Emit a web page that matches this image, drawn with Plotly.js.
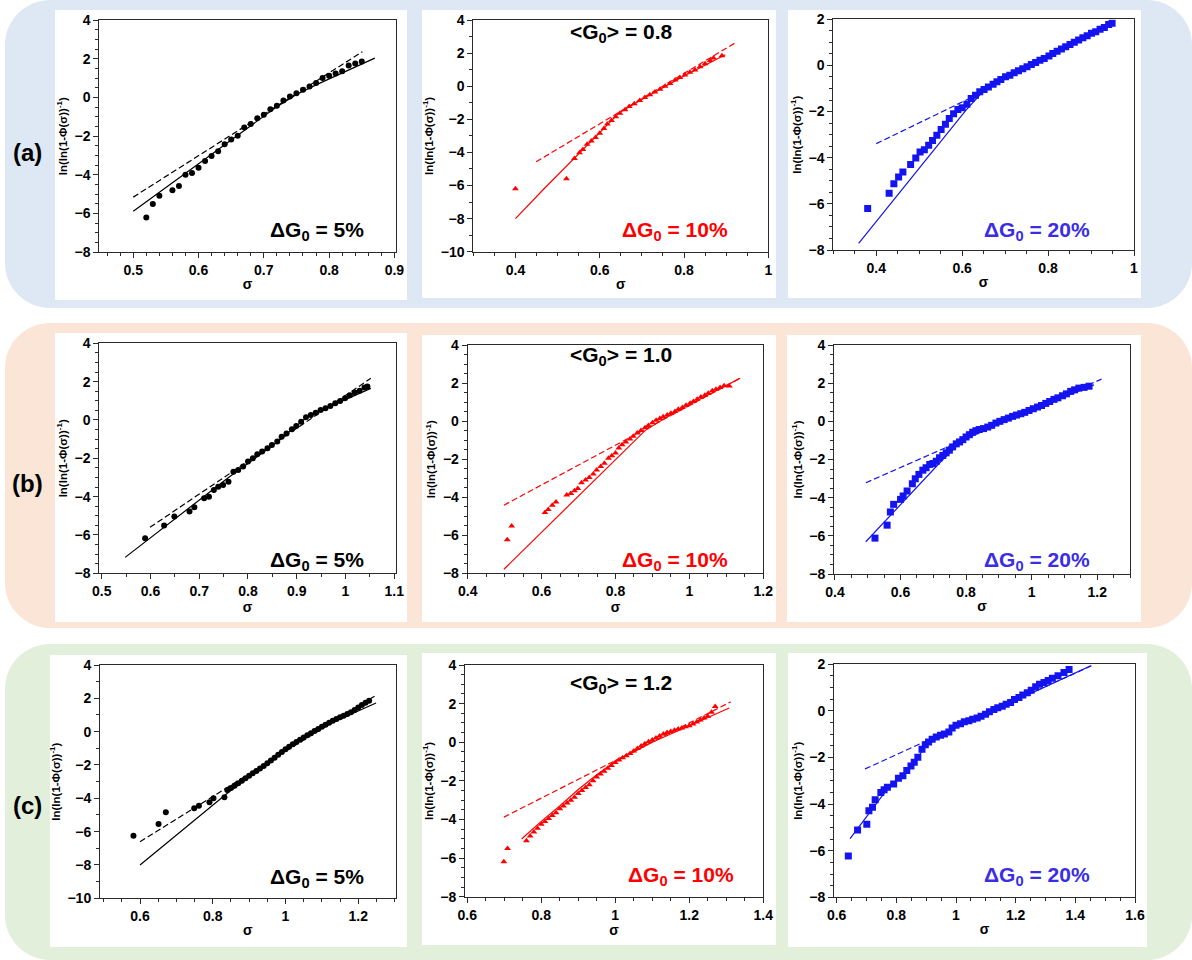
<!DOCTYPE html>
<html><head><meta charset="utf-8">
<script src="https://cdn.plot.ly/plotly-3.0.1.min.js"></script>
<style>html,body{margin:0;padding:0;background:#fff;}#chart{width:1192px;height:960px;}</style>
</head><body><div id="chart"></div>
<script>
// ---------- data ----------
// Row (a) <G0> = 0.8
const a1X = [0.52,0.53,0.54,0.56,0.57,0.58,0.59,0.60,0.61,0.62,0.63,0.64,0.65,0.66,0.67,0.68,0.69,0.70,0.71,0.72,0.73,0.74,0.75,0.76,0.77,0.78,0.79,0.80,0.81,0.82,0.83,0.84,0.85];
const a1Y = [-6.2,-5.5,-5.08,-4.8,-4.58,-4.0,-3.9,-3.63,-3.28,-3.02,-2.78,-2.42,-2.17,-1.98,-1.55,-1.37,-1.08,-0.9,-0.61,-0.43,-0.16,0.05,0.22,0.4,0.57,0.75,1.0,1.12,1.23,1.35,1.65,1.75,1.85];
const a1SolidX = [0.5,0.6,0.68,0.72,0.75,0.78,0.87];
const a1SolidY = [-5.88,-3.42,-1.45,-0.48,0.15,0.65,2.03];
const a1DashX = [0.5,0.851];
const a1DashY = [-5.15,2.36];

const a2X = [0.40,0.521,0.540,0.552,0.560,0.570,0.580,0.590,0.600,0.610,0.618,0.628,0.638,0.648,0.660,0.670,0.682,0.695,0.707,0.719,0.731,0.743,0.755,0.767,0.779,0.790,0.802,0.814,0.826,0.838,0.850,0.862,0.870,0.890];
const a2Y = [-6.2,-5.59,-4.37,-4.02,-3.82,-3.51,-3.31,-3.1,-2.84,-2.55,-2.29,-2.08,-1.84,-1.63,-1.43,-1.22,-1.06,-0.86,-0.69,-0.51,-0.35,-0.18,0.0,0.16,0.37,0.53,0.67,0.84,0.98,1.18,1.35,1.55,1.7,1.84];
const a2SolidX = [0.4,0.465,0.648,0.70,0.80,0.898];
const a2SolidY = [-8.0,-6.27,-1.57,-0.8,0.62,1.9];
const a2DashX = [0.449,0.921];
const a2DashY = [-4.57,2.61];

const a3X = [0.38,0.43,0.441,0.452,0.462,0.48,0.492,0.502,0.512,0.522,0.531,0.541,0.551,0.561,0.57,0.58,0.59,0.60,0.611,0.621,0.631,0.641,0.651,0.661,0.672,0.681,0.69,0.701,0.711,0.721,0.731,0.741,0.751,0.761,0.771,0.781,0.791,0.802,0.811,0.821,0.831,0.841,0.851,0.861,0.871,0.881,0.891,0.901,0.911,0.921,0.931,0.941,0.949];
const a3Y = [-6.2,-5.54,-5.13,-4.84,-4.62,-4.29,-4.01,-3.75,-3.65,-3.46,-3.25,-3.03,-2.78,-2.55,-2.3,-2.09,-1.91,-1.83,-1.68,-1.43,-1.29,-1.14,-1.04,-0.93,-0.81,-0.71,-0.61,-0.49,-0.42,-0.32,-0.23,-0.14,-0.06,0.04,0.13,0.23,0.3,0.41,0.52,0.62,0.71,0.81,0.91,1.0,1.1,1.2,1.29,1.39,1.46,1.57,1.64,1.78,1.83];
const a3SolidX = [0.359,0.609,0.65,0.75,0.95];
const a3SolidY = [-7.71,-1.94,-1.1,-0.08,1.8];
const a3DashX = [0.40,0.625];
const a3DashY = [-3.39,-1.36];

// Row (b) <G0> = 1.0
const b1X = [0.589,0.628,0.649,0.68,0.69,0.71,0.72,0.73,0.739,0.749,0.76,0.77,0.78,0.79,0.80,0.81,0.819,0.829,0.84,0.849,0.86,0.869,0.879,0.89,0.899,0.909,0.919,0.929,0.939,0.949,0.959,0.969,0.979,0.989,0.999,1.009,1.019,1.029,1.039,1.045];
const b1Y = [-6.17,-5.51,-5.04,-4.78,-4.56,-4.09,-4.0,-3.65,-3.48,-3.39,-3.22,-2.7,-2.61,-2.43,-2.17,-2.0,-1.79,-1.65,-1.48,-1.3,-1.13,-0.87,-0.7,-0.49,-0.31,-0.09,0.14,0.26,0.38,0.52,0.61,0.73,0.87,0.99,1.13,1.29,1.43,1.53,1.69,1.74];
const b1SolidX = [0.548,0.76,0.85,0.919,0.96,1.052];
const b1SolidY = [-7.17,-3.0,-1.35,0.1,0.62,1.65];
const b1DashX = [0.599,1.052];
const b1DashY = [-5.6,2.17];

const b2X = [0.507,0.519,0.609,0.618,0.629,0.639,0.668,0.679,0.689,0.698,0.708,0.719,0.729,0.74,0.749,0.76,0.77,0.781,0.79,0.80,0.809,0.818,0.828,0.839,0.848,0.859,0.869,0.88,0.889,0.90,0.91,0.92,0.929,0.94,0.95,0.961,0.97,0.981,0.991,1.002,1.011,1.021,1.031,1.042,1.051,1.062,1.072,1.083,1.094,1.108];
const b2Y = [-6.23,-5.52,-4.81,-4.65,-4.42,-4.25,-3.89,-3.81,-3.66,-3.54,-3.24,-3.1,-2.96,-2.78,-2.57,-2.39,-2.21,-1.95,-1.82,-1.68,-1.42,-1.24,-1.1,-0.94,-0.8,-0.62,-0.5,-0.35,-0.23,-0.09,0.04,0.14,0.23,0.32,0.41,0.51,0.62,0.71,0.83,0.94,1.03,1.15,1.27,1.36,1.47,1.59,1.68,1.77,1.86,1.84];
const b2SolidX = [0.498,0.821,0.88,0.95,1.137];
const b2SolidY = [-7.79,-1.59,-0.5,0.35,2.25];
const b2DashX = [0.498,1.137];
const b2DashY = [-4.42,2.25];

const b3X = [0.522,0.559,0.569,0.579,0.60,0.608,0.62,0.636,0.645,0.656,0.668,0.678,0.689,0.699,0.709,0.719,0.729,0.739,0.749,0.759,0.77,0.78,0.79,0.80,0.81,0.82,0.83,0.84,0.853,0.866,0.878,0.891,0.903,0.916,0.929,0.942,0.954,0.967,0.979,0.992,1.005,1.018,1.03,1.043,1.055,1.068,1.08,1.094,1.106,1.119,1.131,1.144,1.16,1.175];
const b3Y = [-6.12,-5.44,-4.75,-4.35,-4.09,-3.91,-3.65,-3.27,-3.01,-2.78,-2.56,-2.43,-2.26,-2.21,-2.09,-1.91,-1.79,-1.65,-1.51,-1.34,-1.18,-1.08,-0.96,-0.82,-0.7,-0.57,-0.49,-0.43,-0.38,-0.3,-0.21,-0.09,0.0,0.09,0.17,0.26,0.33,0.4,0.47,0.57,0.66,0.75,0.83,0.94,1.04,1.15,1.23,1.34,1.44,1.57,1.65,1.74,1.78,1.84];
const b3SolidX = [0.494,0.729,0.78,0.85,1.0,1.19];
const b3SolidY = [-6.31,-2.0,-1.15,-0.42,0.6,1.91];
const b3DashX = [0.494,1.213];
const b3DashY = [-3.22,2.21];

// Row (c) <G0> = 1.2
const c1X = [0.582,0.651,0.671,0.749,0.762,0.791,0.802,0.832,0.84,0.85,0.86,0.87,0.88,0.89,0.90,0.91,0.92,0.93,0.94,0.95,0.96,0.97,0.98,0.99,1.00,1.01,1.02,1.03,1.04,1.05,1.06,1.07,1.08,1.09,1.10,1.11,1.12,1.13,1.14,1.15,1.16,1.17,1.18,1.19,1.20,1.21,1.22,1.23];
const c1Y = [-6.24,-5.54,-4.84,-4.6,-4.44,-4.24,-4.0,-3.94,-3.50,-3.38,-3.24,-3.10,-2.95,-2.80,-2.65,-2.50,-2.36,-2.21,-2.06,-1.90,-1.73,-1.56,-1.39,-1.22,-1.05,-0.90,-0.76,-0.62,-0.48,-0.35,-0.22,-0.09,0.04,0.16,0.29,0.41,0.54,0.66,0.76,0.86,0.96,1.06,1.16,1.30,1.45,1.60,1.74,1.86];
const c1SolidX = [0.6,0.84,0.9,1.0,1.1,1.249];
const c1SolidY = [-8.0,-3.7,-2.7,-1.1,0.26,1.72];
const c1DashX = [0.6,1.25];
const c1DashY = [-6.6,2.2];

const c2X = [0.699,0.709,0.76,0.77,0.78,0.79,0.80,0.81,0.82,0.83,0.84,0.85,0.86,0.87,0.88,0.89,0.90,0.91,0.92,0.93,0.94,0.95,0.96,0.97,0.98,0.99,1.00,1.01,1.02,1.03,1.04,1.05,1.06,1.07,1.08,1.09,1.10,1.11,1.12,1.13,1.14,1.15,1.16,1.17,1.18,1.19,1.20,1.21,1.22,1.23,1.24,1.25,1.26,1.27];
const c2Y = [-6.19,-5.5,-5.1,-4.85,-4.65,-4.45,-4.25,-4.1,-3.95,-3.8,-3.65,-3.45,-3.3,-3.15,-3.0,-2.85,-2.65,-2.5,-2.35,-2.2,-2.0,-1.8,-1.65,-1.5,-1.35,-1.2,-1.05,-0.92,-0.8,-0.7,-0.58,-0.45,-0.33,-0.2,-0.08,0.02,0.12,0.22,0.32,0.42,0.5,0.55,0.62,0.68,0.74,0.8,0.86,0.95,1.05,1.15,1.25,1.35,1.55,1.85];
const c2SolidX = [0.747,0.8,0.85,0.9,0.95,1.0,1.05,1.1,1.2,1.308];
const c2SolidY = [-5.01,-4.1,-3.3,-2.45,-1.68,-1.0,-0.5,0.0,0.85,1.77];
const c2DashX = [0.699,1.312];
const c2DashY = [-3.88,2.09];

const c3X = [0.639,0.67,0.701,0.708,0.72,0.729,0.748,0.759,0.77,0.791,0.807,0.822,0.835,0.849,0.86,0.872,0.886,0.897,0.908,0.92,0.934,0.948,0.961,0.976,0.987,1.0,1.015,1.028,1.043,1.056,1.071,1.084,1.099,1.112,1.127,1.14,1.155,1.168,1.183,1.196,1.211,1.224,1.239,1.252,1.267,1.28,1.295,1.309,1.323,1.342,1.362,1.379];
const c3Y = [-6.23,-5.11,-4.86,-4.29,-4.14,-3.81,-3.5,-3.38,-3.28,-3.14,-2.89,-2.78,-2.56,-2.37,-2.2,-1.99,-1.65,-1.45,-1.34,-1.22,-1.12,-1.05,-0.99,-0.91,-0.73,-0.62,-0.55,-0.47,-0.42,-0.36,-0.3,-0.23,-0.14,-0.04,0.06,0.13,0.2,0.29,0.36,0.49,0.58,0.68,0.78,0.89,1.04,1.14,1.22,1.31,1.4,1.51,1.65,1.78];
const c3SolidX = [0.645,0.72,0.77,0.85,0.9,1.0,1.2,1.452];
const c3SolidY = [-5.48,-4.2,-3.35,-2.35,-1.5,-0.65,0.45,1.94];
const c3DashX = [0.695,1.454];
const c3DashY = [-2.49,1.94];

// labels
const rowLabels = ['(a)','(b)','(c)'];
const meanLabels = ['&lt;G<sub>0</sub>&gt; = 0.8','&lt;G<sub>0</sub>&gt; = 1.0','&lt;G<sub>0</sub>&gt; = 1.2'];
const deltaLabels = ['ΔG<sub>0</sub> = 5%','ΔG<sub>0</sub> = 10%','ΔG<sub>0</sub> = 20%'];
const xTitle = 'σ';
const yTitle = 'ln(ln(1-Φ(σ))<sup>-1</sup>)';

// ---------- styling / layout ----------
const W = 1192, H = 960;
const FONT = 'Arial, "Liberation Sans", sans-serif';
const BLACK = '#000000', RED = '#ff0000', BLUE = '#1414f0', BLUETXT = '#3a2de6';
const X = v => v / W, Y = v => 1 - v / H;

const styles = [
  {col: BLACK, txt: BLACK, sym: 'circle', ms: 6},
  {col: RED, txt: RED, sym: 'triangle-up', ms: 6},
  {col: BLUE, txt: BLUETXT, sym: 'square', ms: 7}
];

const panels = [
  {d:[a1X,a1Y,a1SolidX,a1SolidY,a1DashX,a1DashY], s:0, box:[99.3,20,395.7,252.3], xr:[0.448,0.902], yr:[-8,4], xdt:0.1, xmn:0.02, ymn:0.5},
  {d:[a2X,a2Y,a2SolidX,a2SolidY,a2DashX,a2DashY], s:1, box:[473.3,20,768.3,251.7], xr:[0.3,1.0], yr:[-10,4], xdt:0.2, xmn:0.05, ymn:1},
  {d:[a3X,a3Y,a3SolidX,a3SolidY,a3DashX,a3DashY], s:2, box:[833.3,19.3,1134,250], xr:[0.3,1.0], yr:[-8,2], xdt:0.2, xmn:0.05, ymn:0.5},
  {d:[b1X,b1Y,b1SolidX,b1SolidY,b1DashX,b1DashY], s:0, box:[99.3,343.3,395.7,573.3], xr:[0.495,1.103], yr:[-8,4], xdt:0.1, xmn:0.05, ymn:0.5},
  {d:[b2X,b2Y,b2SolidX,b2SolidY,b2DashX,b2DashY], s:1, box:[467.7,345,763.3,573.3], xr:[0.4,1.2], yr:[-8,4], xdt:0.2, xmn:0.05, ymn:0.5},
  {d:[b3X,b3Y,b3SolidX,b3SolidY,b3DashX,b3DashY], s:2, box:[834,345,1130,574], xr:[0.397,1.3], yr:[-8,4], xdt:0.2, xmn:0.05, ymn:0.5},
  {d:[c1X,c1Y,c1SolidX,c1SolidY,c1DashX,c1DashY], s:0, box:[100,665,395.7,898.3], xr:[0.49,1.303], yr:[-10,4], xdt:0.2, xmn:0.05, ymn:1},
  {d:[c2X,c2Y,c2SolidX,c2SolidY,c2DashX,c2DashY], s:1, box:[465,665,763.3,896.7], xr:[0.594,1.4], yr:[-8,4], xdt:0.2, xmn:0.05, ymn:0.5},
  {d:[c3X,c3Y,c3SolidX,c3SolidY,c3DashX,c3DashY], s:2, box:[834,664.3,1135,897.3], xr:[0.591,1.6], yr:[-8,2], xdt:0.2, xmn:0.05, ymn:0.5}
];

const traces = [];
const layout = {
  width: W, height: H, margin: {l:0, r:0, t:0, b:0},
  paper_bgcolor: '#ffffff', plot_bgcolor: 'rgba(0,0,0,0)',
  showlegend: false, font: {family: FONT, color: BLACK},
  shapes: [], annotations: []
};

panels.forEach((p, i) => {
  const st = styles[p.s];
  const xa = i === 0 ? 'x' : 'x' + (i + 1);
  const ya = i === 0 ? 'y' : 'y' + (i + 1);
  const [px, py, sx, sy, dx, dy] = p.d;
  traces.push({x: sx, y: sy, xaxis: xa, yaxis: ya, mode: 'lines', line: {color: st.col, width: 1.2}, hoverinfo: 'skip'});
  traces.push({x: dx, y: dy, xaxis: xa, yaxis: ya, mode: 'lines', line: {color: st.col, width: 1.2, dash: '6px,3px'}, hoverinfo: 'skip'});
  traces.push({x: px, y: py, xaxis: xa, yaxis: ya, mode: 'markers', marker: {color: st.col, symbol: st.sym, size: st.ms, line: {width: 0}}, hoverinfo: 'skip'});
  const [x0, y0, x1, y1] = p.box;
  const axCommon = {
    showline: true, mirror: true, linecolor: '#2a2a2a', linewidth: 1,
    ticks: 'outside', ticklen: 5, tickwidth: 1, tickcolor: '#2a2a2a',
    showgrid: false, zeroline: false, fixedrange: true,
    tickfont: {family: FONT, size: 14, color: BLACK, weight: 700}
  };
  layout[i === 0 ? 'xaxis' : 'xaxis' + (i + 1)] = Object.assign({}, axCommon, {
    domain: [X(x0), X(x1)], anchor: ya, range: p.xr, dtick: p.xdt, tick0: 0,
    minor: {dtick: p.xmn, tick0: 0, ticks: 'outside', ticklen: 3, tickcolor: '#2a2a2a', tickwidth: 1, showgrid: false},
    title: {text: xTitle, font: {family: FONT, size: 14, color: BLACK, weight: 700}, standoff: 2}
  });
  layout[i === 0 ? 'yaxis' : 'yaxis' + (i + 1)] = Object.assign({}, axCommon, {
    domain: [Y(y1), Y(y0)], anchor: xa, range: p.yr, dtick: 2, tick0: 0,
    minor: {dtick: p.ymn, tick0: 0, ticks: 'outside', ticklen: 3, tickcolor: '#2a2a2a', tickwidth: 1, showgrid: false},
    title: {text: yTitle, font: {family: FONT, size: 11.5, color: BLACK, weight: 700}, standoff: 4}
  });
});

// rounded row backgrounds
function rr(x0, y0, x1, y1, r) {
  const k = 0.5523 * r;
  return `M ${X(x0 + r)},${Y(y0)} L ${X(x1 - r)},${Y(y0)} ` +
    `C ${X(x1 - r + k)},${Y(y0)} ${X(x1)},${Y(y0 + r - k)} ${X(x1)},${Y(y0 + r)} ` +
    `L ${X(x1)},${Y(y1 - r)} C ${X(x1)},${Y(y1 - r + k)} ${X(x1 - r + k)},${Y(y1)} ${X(x1 - r)},${Y(y1)} ` +
    `L ${X(x0 + r)},${Y(y1)} C ${X(x0 + r - k)},${Y(y1)} ${X(x0)},${Y(y1 - r + k)} ${X(x0)},${Y(y1 - r)} ` +
    `L ${X(x0)},${Y(y0 + r)} C ${X(x0)},${Y(y0 + r - k)} ${X(x0 + r - k)},${Y(y0)} ${X(x0 + r)},${Y(y0)} Z`;
}
const rows = [
  {b:[5, 0, 1192, 308], c:'#dee8f4'},
  {b:[5, 323, 1192, 628], c:'#fbe5d6'},
  {b:[5, 644, 1192, 960], c:'#e2efda'}
];
rows.forEach(r => layout.shapes.push({type: 'path', xref: 'paper', yref: 'paper', layer: 'below',
  path: rr(r.b[0], r.b[1], r.b[2], r.b[3], 45), fillcolor: r.c, line: {width: 0}}));

const whites = [
  [55,10,407,300],[422,10,776,298],[788,10,1141,298],
  [55,333,407,622],[422,335,776,622],[787,335,1141,622],
  [50,655,407,947],[422,653,776,945],[788,653,1147,947]
];
whites.forEach(w => layout.shapes.push({type: 'rect', xref: 'paper', yref: 'paper', layer: 'below',
  x0: X(w[0]), x1: X(w[2]), y0: Y(w[3]), y1: Y(w[1]), fillcolor: '#ffffff', line: {width: 0}}));

// annotations
const rowLabelY = [152, 483, 805];
rowLabels.forEach((t, i) => layout.annotations.push({text: t, xref: 'paper', yref: 'paper',
  x: X(27), y: Y(rowLabelY[i]), xanchor: 'center', yanchor: 'middle', showarrow: false,
  font: {family: FONT, size: 24, color: BLACK, weight: 700}}));

const meanPos = [[621, 33], [621, 356], [621, 684]];
meanLabels.forEach((t, i) => layout.annotations.push({text: t, xref: 'paper', yref: 'paper',
  x: X(meanPos[i][0]), y: Y(meanPos[i][1]), xanchor: 'center', yanchor: 'middle', showarrow: false,
  font: {family: FONT, size: 21, color: BLACK, weight: 700}}));

const deltaPos = [
  [317,231],[675,231],[1037,231],
  [317,561],[675,561],[1037,561],
  [317,878],[681,876],[1037,876]
];
deltaPos.forEach((p, i) => {
  const st = styles[i % 3];
  layout.annotations.push({text: deltaLabels[i % 3], xref: 'paper', yref: 'paper',
    x: X(p[0]), y: Y(p[1]), xanchor: 'center', yanchor: 'middle', showarrow: false,
    font: {family: FONT, size: 21, color: st.txt, weight: 700}});
});

Plotly.newPlot('chart', traces, layout, {displayModeBar: false, staticPlot: true});
</script></body></html>
